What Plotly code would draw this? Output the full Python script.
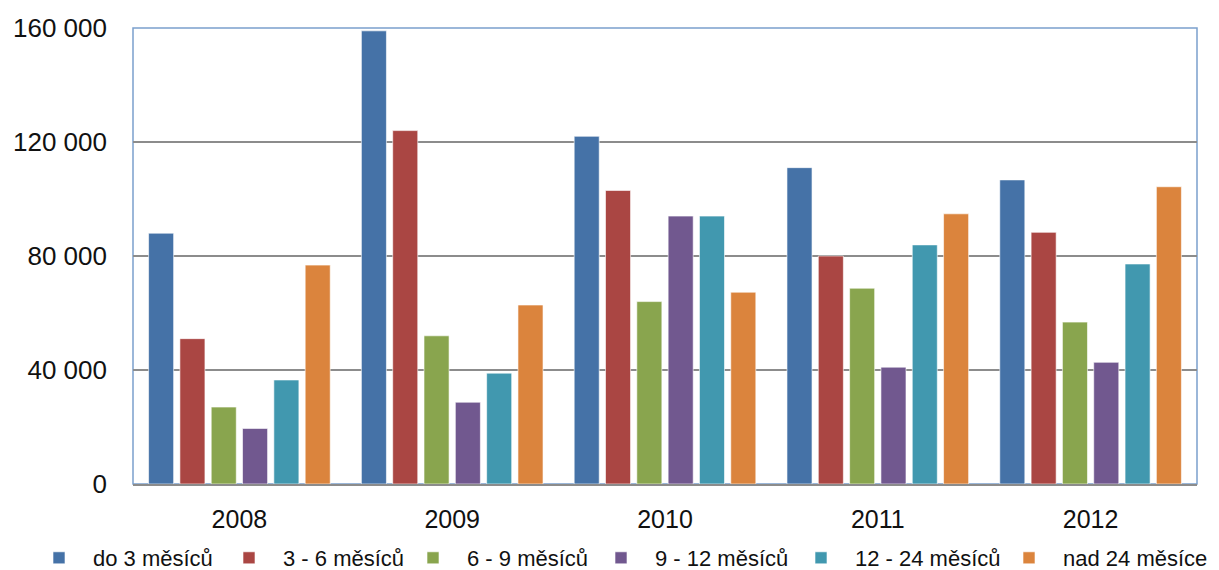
import plotly.graph_objects as go

years = ["2008", "2009", "2010", "2011", "2012"]
series_names = ["do 3 měsíců", "3 - 6 měsíců", "6 - 9 měsíců", "9 - 12 měsíců", "12 - 24 měsíců", "nad 24 měsíce"]
do3 = [88000, 159000, 122000, 111000, 106700]
m3_6 = [51000, 124000, 103000, 80000, 88300]
m6_9 = [27000, 52000, 64000, 68700, 56800]
m9_12 = [19500, 28700, 94000, 41000, 42700]
m12_24 = [36500, 38900, 94000, 83900, 77200]
nad24 = [76800, 62800, 67300, 94800, 104300]
tick_vals = [0, 40000, 80000, 120000, 160000]
tick_text = ["0", "40 000", "80 000", "120 000", "160 000"]

colors = ["#4572A7", "#AA4643", "#89A54E", "#71588F", "#4198AF", "#DB843D"]
values = [do3, m3_6, m6_9, m9_12, m12_24, nad24]

# page body has an 8px margin, so the figure is drawn 8px in from the window edge
W, H = 1211, 562
legend_left_px = [17, 207, 391, 579, 779, 987]
legend_names = ["legend"] + ["legend%d" % i for i in range(2, 7)]

fig = go.Figure()
for name, vals, col, lg in zip(series_names, values, colors, legend_names):
    fig.add_trace(go.Bar(x=years, y=vals, name=name, legend=lg,
                         marker=dict(color=col, line=dict(color="rgba(255,255,255,0.6)", width=1))))

font = "Liberation Sans"
layout_legends = {}
for lg, px in zip(legend_names, legend_left_px):
    layout_legends[lg] = dict(orientation="h", x=px / W, xanchor="left", xref="container",
                              y=(H - 550) / H, yanchor="middle", yref="container",
                              font=dict(size=22), itemwidth=58, bgcolor="rgba(0,0,0,0)")

fig.update_layout(
    width=W, height=H,
    margin=dict(l=125, r=22, t=20, b=86),
    paper_bgcolor="white", plot_bgcolor="white",
    barmode="group", bargap=0.117, bargroupgap=0.2,
    font=dict(family=font, size=22, color="#111111"),
    showlegend=True,
    xaxis=dict(showline=True, linecolor="#8c8c8c", linewidth=1.5, mirror=False,
               tickfont=dict(size=25), ticks="", automargin=False, ticklabelstandoff=12),
    yaxis=dict(range=[0, 160000], tickvals=tick_vals, ticktext=tick_text,
               showgrid=True, gridcolor="#8c8c8c", gridwidth=1.5,
               showline=False,
               tickfont=dict(size=26), ticks="", zeroline=False, automargin=False,
               ticklabelstandoff=25),
    shapes=[dict(type="rect", xref="paper", yref="paper", x0=0, x1=1, y0=0, y1=1,
                 line=dict(color="#7BA0CD", width=1.5), layer="below")],
    **layout_legends,
)
fig.write_html("out.html")
